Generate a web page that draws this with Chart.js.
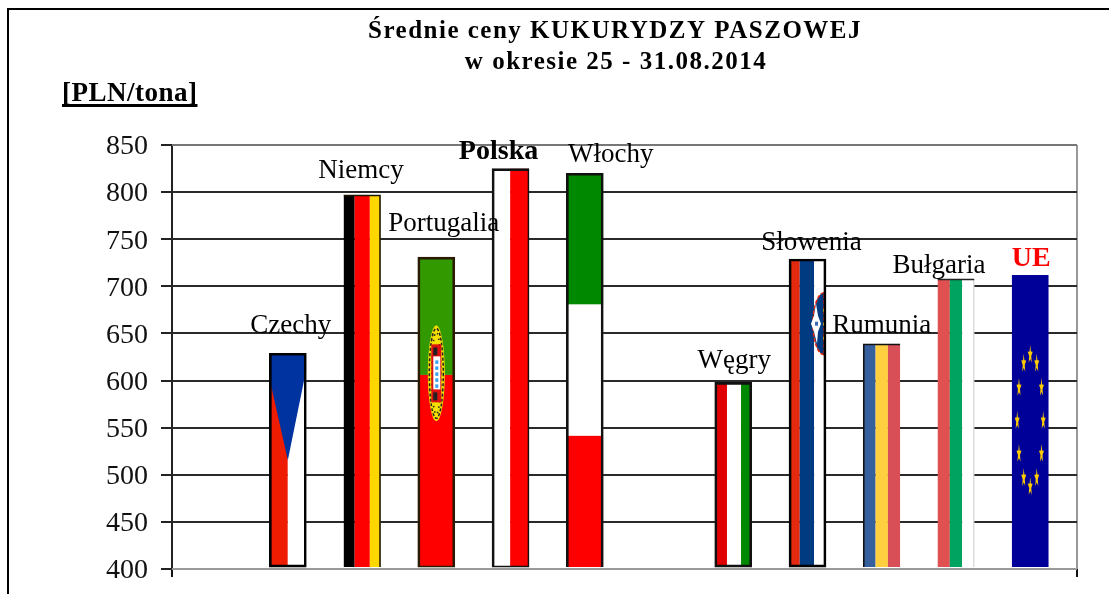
<!DOCTYPE html>
<html lang="pl">
<head>
<meta charset="utf-8">
<title>Średnie ceny kukurydzy paszowej</title>
<script src="https://cdn.jsdelivr.net/npm/chart.js@4"></script>
<style>
  html, body { margin: 0; padding: 0; background: #fff; overflow: hidden; }
  #ramka { position: absolute; left: 7px; top: 8px; width: 1102px; height: 586px;
           border-top: 2px solid #000; border-left: 2px solid #000; box-sizing: border-box; }
  #wykres { position: absolute; left: 0; top: 0; }
</style>
</head>
<body>
<div id="ramka"></div>
<canvas id="wykres" width="1109" height="594"></canvas>
<script>
// dane, puste pola to przerwy na osi
const kraje = ["", "Czechy", "Niemcy", "Portugalia", "Polska", "Włochy", "", "Węgry", "Słowenia", "Rumunia", "Bułgaria", "UE"];
const ceny = [null, 629, 797, 731, 825, 820, null, 598, 729, 639, 708, 712];
const ticki_y = [400, 450, 500, 550, 600, 650, 700, 750, 800, 850];
const tytul = ["Średnie ceny KUKURYDZY PASZOWEJ", "w okresie 25 - 31.08.2014"];
const jednostka = "[PLN/tona]";

const CZCIONKA = "'Liberation Serif', 'Times New Roman', serif";

// przesuniecie podpisu wzgledem szczytu slupka
const przesuniecia = {
  "Czechy": [3, 20], "Niemcy": [-1, 17], "Portugalia": [7.5, 26], "Polska": [-12, 10], "Włochy": [26, 11],
  "Węgry": [1, 14], "Słowenia": [4, 9], "Rumunia": [0, 11], "Bułgaria": [-17, 6], "UE": [1, 9],
};

// obramowania slupkow (w oryginale kazdy ma troche inne)
const ramki = {
  "Czechy": ["#000", 2], "Niemcy": ["#1a1400", { top: 1, right: 1, bottom: 0, left: 0 }],
  "Portugalia": ["#2a1a00", { top: 2, right: 2, bottom: 1, left: 2 }],
  "Polska": ["#111", { top: 2, right: 1, bottom: 1, left: 2 }], "Włochy": ["#111", { top: 2, right: 2, bottom: 0, left: 2 }],
  "Węgry": ["#111", 2], "Słowenia": ["#000", 2],
  "Rumunia": ["#111", { top: 1, right: 0, bottom: 0, left: 1 }], "Bułgaria": ["#222", { top: 1, right: 0, bottom: 0, left: 0 }],
  "UE": ["#000", 0],
};

function paski_pion(c, r, kolory, granice) {
  let x = r.x;
  kolory.forEach((kolor, i) => {
    const x2 = i < granice.length ? r.x + r.w * granice[i] : r.x + r.w;
    c.fillStyle = kolor;
    c.fillRect(x, r.y, x2 - x, r.h);
    x = x2;
  });
}

function paski_poziom(c, r, kolory, granice) {
  let y = r.y;
  kolory.forEach((kolor, i) => {
    const y2 = i < granice.length ? r.y + r.h * granice[i] : r.y + r.h;
    c.fillStyle = kolor;
    c.fillRect(r.x, y, r.w, y2 - y);
    y = y2;
  });
}

function gwiazdka(c, x, y, sx, sy) {
  c.save();
  c.translate(x, y);
  c.scale(sx, sy);
  c.beginPath();
  for (let i = 0; i < 10; i++) {
    const a = -Math.PI / 2 + i * Math.PI / 5;
    const p = i % 2 ? 0.42 : 1;
    c.lineTo(Math.cos(a) * p, Math.sin(a) * p);
  }
  c.closePath();
  c.fill();
  c.restore();
}

const flagi = {
  "Czechy": (c, r) => {
    paski_pion(c, r, ["#ee1c00", "#fff"], [0.5]);
    c.fillStyle = "#0033a0";
    c.beginPath();
    c.moveTo(r.x, r.y);
    c.lineTo(r.x + r.w, r.y);
    c.lineTo(r.x + r.w, r.y + r.h * 0.075);
    c.lineTo(r.x + r.w * 0.5, r.y + r.h * 0.5);
    c.lineTo(r.x, r.y + r.h * 0.113);
    c.closePath();
    c.fill();
  },
  "Niemcy": (c, r) => paski_pion(c, r, ["#000", "#f00", "#ffd700"], [0.3, 0.71]),
  "Portugalia": (c, r) => {
    paski_poziom(c, r, ["#339900", "#f00"], [0.38]);
    // herb
    const sx = r.x + r.w / 2, sy = r.y + r.h * 0.375;
    c.fillStyle = "#f5e000";
    c.beginPath();
    c.ellipse(sx, sy, 8.5, 48, 0, 0, Math.PI * 2);
    c.fill();
    c.strokeStyle = "#222";
    c.lineWidth = 1.5;
    c.setLineDash([3, 2]);
    c.beginPath();
    c.ellipse(sx, sy, 7, 45, 0, 0, Math.PI * 2);
    c.stroke();
    c.setLineDash([1.5, 4]);
    c.beginPath();
    c.ellipse(sx, sy, 4.5, 41, 0, 0, Math.PI * 2);
    c.stroke();
    c.setLineDash([]);
    c.fillStyle = "#e01010";
    c.fillRect(sx - 5, sy - 29, 10, 58);
    c.fillStyle = "#fff";
    c.fillRect(sx - 3, sy - 17, 7, 33);
    c.fillStyle = "#222";
    c.fillRect(sx - 3, sy - 26, 4, 8);
    c.fillRect(sx - 3, sy + 19, 4, 8);
    c.fillStyle = "#3aa0f0";
    for (let i = 0; i < 5; i++) c.fillRect(sx - 1, sy - 13 + i * 6, 3, 3.5);
  },
  "Polska": (c, r) => {
    paski_pion(c, r, ["#fff", "#f00"], [0.49]);
  },
  "Włochy": (c, r) => paski_poziom(c, r, ["#008800", "#fff", "#f00"], [1 / 3, 2 / 3]),
  "Węgry": (c, r) => paski_pion(c, r, ["#e00000", "#fff", "#008800"], [0.33, 0.71]),
  "Słowenia": (c, r) => {
    paski_pion(c, r, ["#e5290f", "#003a80", "#fff"], [0.29, 0.68]);
    // tarcza
    const tx = r.x + r.w - 2, ty = r.y + r.h * 0.21;
    c.fillStyle = "#003a80";
    c.strokeStyle = "#e5290f";
    c.lineWidth = 1.5;
    c.setLineDash([4, 1.5]);
    c.beginPath();
    c.ellipse(tx, ty, 11, 31, 0, Math.PI / 2, Math.PI * 1.5);
    c.closePath();
    c.fill();
    c.stroke();
    c.setLineDash([]);
    c.fillStyle = "#fff";
    c.beginPath();
    c.moveTo(tx - 8, ty - 20);
    c.lineTo(tx - 6, ty - 8);
    c.lineTo(tx - 3, ty);
    c.lineTo(tx - 6, ty + 8);
    c.lineTo(tx - 7, ty + 20);
    c.lineTo(tx - 10, ty + 8);
    c.lineTo(tx - 13, ty);
    c.lineTo(tx - 10, ty - 8);
    c.closePath();
    c.fill();
    c.fillStyle = "#3a6ab0";
    c.fillRect(tx - 9, ty - 2, 3, 4);
    c.fillStyle = "#f0d020";
    [-14, 0, 14].forEach((d) => c.fillRect(tx - 1, ty + d - 1, 1.5, 3));
  },
  "Rumunia": (c, r) => paski_pion(c, r, ["#36609d", "#ffcf3f", "#d94f57"], [1 / 3, 2 / 3]),
  "Bułgaria": (c, r) => {
    paski_pion(c, r, ["#e05050", "#00a35f", "#fff"], [1 / 3, 2 / 3]);
    c.fillStyle = "#bbb";
    c.fillRect(r.x + r.w - 1, r.y, 1, r.h);
  },
  "UE": (c, r) => {
    c.fillStyle = "#000099";
    c.fillRect(r.x, r.y, r.w, r.h);
    c.fillStyle = "#ffcc00";
    const sx = r.x + r.w / 2, sy = r.y + r.h * 0.499;
    for (let i = 0; i < 12; i++) {
      const a = i * Math.PI / 6;
      gwiazdka(c, sx + Math.sin(a) * 13, sy - Math.cos(a) * 66, 2.6, 10);
    }
  },
};

const plugin_flagi = {
  id: "flagi",
  beforeDatasetsDraw: (chart) => {
    const c = chart.ctx;
    chart.getDatasetMeta(0).data.forEach((bar, i) => {
      if (ceny[i] === null) return;
      const p = bar.getProps(["x", "y", "base", "width"]);
      const r = { x: p.x - p.width / 2, y: p.y, w: p.width, h: p.base - p.y };
      c.save();
      c.beginPath();
      c.rect(r.x, r.y, r.w, r.h);
      c.clip();
      flagi[kraje[i]](c, r);
      c.restore();
    });
  },
};

const plugin_podpisy = {
  id: "podpisy",
  afterDatasetsDraw: (chart) => {
    const c = chart.ctx;
    c.save();
    c.textAlign = "center";
    c.textBaseline = "alphabetic";
    chart.getDatasetMeta(0).data.forEach((bar, i) => {
      if (ceny[i] === null) return;
      const [dx, dy] = przesuniecia[kraje[i]];
      const pogrubiony = kraje[i] === "Polska" || kraje[i] === "UE";
      c.font = (pogrubiony ? "bold 28px " : "27px ") + CZCIONKA;
      c.fillStyle = kraje[i] === "UE" ? "#ff0000" : "#000";
      c.fillText(kraje[i], bar.x + dx, bar.y - dy);
    });
    c.restore();
  },
};

const plugin_tytul = {
  id: "tytul",
  afterDraw: (chart) => {
    const c = chart.ctx;
    c.save();
    c.fillStyle = "#000";
    c.textAlign = "center";
    c.letterSpacing = "1.5px";
    c.font = "bold 25px " + CZCIONKA;
    c.fillText(tytul[0], 615, 38);
    c.fillText(tytul[1], 616, 69);
    c.textAlign = "left";
    c.letterSpacing = "0.5px";
    c.font = "bold 27px " + CZCIONKA;
    c.fillText(jednostka, 62, 101);
    const w = c.measureText(jednostka).width;
    c.fillRect(62, 104, w, 3);
    c.restore();
  },
};

const ctx = document.getElementById("wykres").getContext("2d");
Chart.defaults.font.family = CZCIONKA;
Chart.defaults.color = "#000";

const wykres = new Chart(ctx, {
  type: "bar",
  data: {
    datasets: [
      {
        label: "Ceny",
        data: kraje.map((k, i) => ({ x: i, y: ceny[i] })),
        backgroundColor: "rgba(0,0,0,0)",
        borderColor: kraje.map((k) => (ramki[k] ? ramki[k][0] : "#000")),
        borderWidth: kraje.map((k) => (ramki[k] ? ramki[k][1] : 0)),
        borderSkipped: false,
        barThickness: 37,
        base: 402,
      },
    ],
  },
  options: {
    responsive: false,
    animation: false,
    layout: { padding: { top: 145, right: 32, left: 0, bottom: 0 } },
    plugins: { legend: { display: false }, title: { display: false }, tooltip: { enabled: false } },
    scales: {
      x: {
        type: "linear",
        offset: false,
        min: -0.56,
        max: 11.63,
        afterBuildTicks: (scale) => {
          scale.ticks = [{ value: scale.min }, { value: scale.max }];
        },
        afterFit: (scale) => {
          scale.height = 25;
        },
        ticks: { display: false },
        border: { display: false },
        grid: {
          offset: false,
          color: (c) => (c.index === 0 ? "#222" : "#999"),
          tickColor: "#111",
          lineWidth: 2,
          tickLength: 8,
        },
      },
      y: {
        min: 400,
        max: 850,
        afterBuildTicks: (scale) => {
          scale.ticks = ticki_y.map((v) => ({ value: v }));
        },
        afterFit: (scale) => {
          scale.width = 172;
          scale.paddingTop = 0;
          scale.paddingBottom = 0;
        },
        ticks: { font: { size: 28 }, color: "#111", padding: 13, labelOffset: 2 },
        border: { display: false },
        grid: {
          color: (c) => (c.tick.value === 850 ? "#777" : c.tick.value === 400 ? "#999" : "#2a2a2a"),
          tickColor: "#222",
          lineWidth: 2,
          tickLength: 11,
        },
      },
    },
  },
  plugins: [plugin_flagi, plugin_podpisy, plugin_tytul],
});
</script>
</body>
</html>
